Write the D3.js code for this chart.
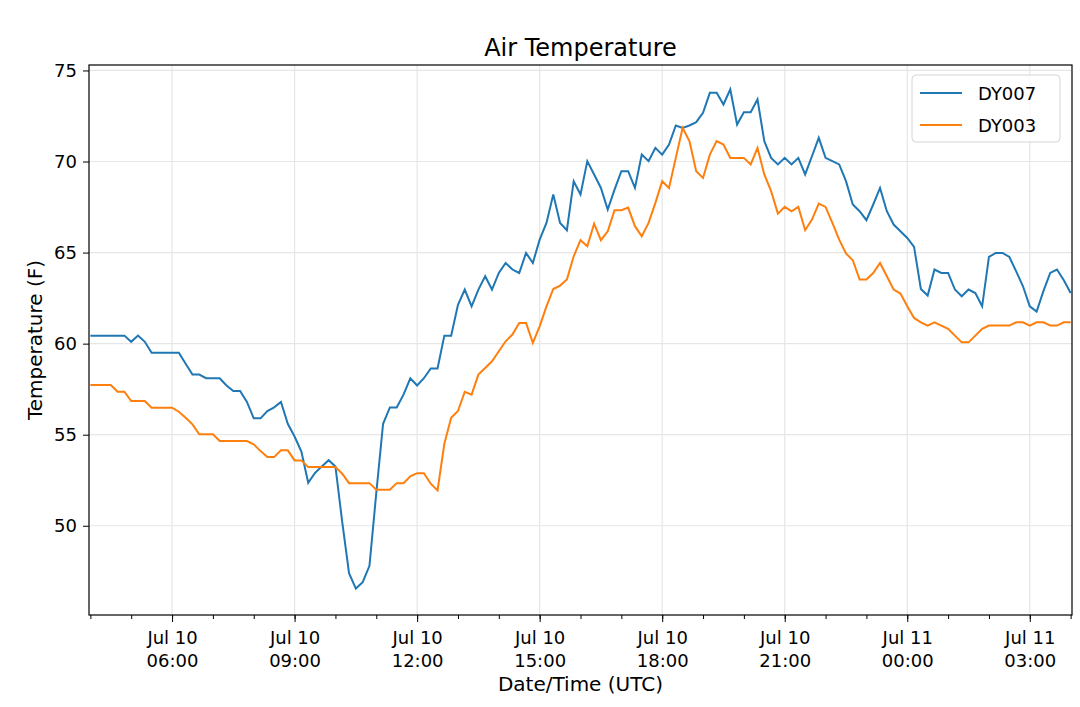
<!DOCTYPE html>
<html><head><meta charset="utf-8">
<script src="https://cdn.jsdelivr.net/npm/d3@7"></script>
<style>body{margin:0;background:#fff;font-family:"DejaVu Sans",sans-serif}</style>
</head><body><div id="chart"></div>
<script>
// readings every 10 minutes, Jul 10 04:00 UTC to Jul 11 04:00 UTC
const startTime = "2019-07-10T04:00:00Z";
const stepMinutes = 10;
const seriesNames = ["DY007", "DY003"];
const dy007 = [
  60.44,60.44,60.44,60.44,60.44,60.44,
  60.1,60.44,60.1,59.5,59.5,59.5,
  59.5,59.5,58.9,58.3,58.3,58.1,
  58.1,58.1,57.7,57.4,57.4,56.8,
  55.9,55.9,56.3,56.5,56.8,55.6,
  54.9,54.07,52.36,52.9,53.26,53.6,
  53.26,50.2,47.4,46.55,46.9,47.8,
  51.8,55.6,56.5,56.5,57.2,58.1,
  57.7,58.1,58.64,58.64,60.44,60.44,
  62.13,62.97,62.05,62.97,63.7,62.97,
  63.88,64.43,64.07,63.88,64.98,64.43,
  65.71,66.63,68.19,66.63,66.23,68.92,
  68.19,70.02,69.29,68.55,67.36,68.46,
  69.47,69.47,68.55,70.38,70.02,70.75,
  70.38,70.93,71.98,71.85,71.98,72.16,
  72.67,73.77,73.77,73.13,73.96,72.03,
  72.71,72.71,73.41,71.12,70.2,69.84,
  70.2,69.84,70.2,69.29,70.29,71.3,
  70.2,70.02,69.84,68.92,67.64,67.27,
  66.78,67.64,68.55,67.27,66.54,66.17,
  65.8,65.31,63.0,62.64,64.07,63.88,
  63.88,62.97,62.6,62.97,62.78,62.05,
  64.76,64.98,64.98,64.76,63.97,63.15,
  62.05,61.76,62.88,63.88,64.07,63.48,
  62.78
];
const dy003 = [
  57.73,57.73,57.73,57.73,57.36,57.36,
  56.85,56.85,56.85,56.48,56.48,56.48,
  56.48,56.26,55.93,55.57,55.02,55.02,
  55.02,54.65,54.65,54.65,54.65,54.65,
  54.47,54.1,53.77,53.77,54.14,54.14,
  53.59,53.59,53.22,53.22,53.22,53.22,
  53.22,52.86,52.34,52.34,52.34,52.34,
  51.98,51.98,51.98,52.34,52.34,52.71,
  52.89,52.89,52.31,51.94,54.5,55.93,
  56.3,57.36,57.2,58.3,58.66,59.03,
  59.58,60.13,60.5,61.14,61.14,60.04,
  60.95,62.05,63.0,63.19,63.52,64.8,
  65.68,65.35,66.59,65.68,66.17,67.33,
  67.33,67.47,66.45,65.9,66.63,67.73,
  68.92,68.55,70.2,71.85,71.12,69.47,
  69.1,70.38,71.12,70.93,70.2,70.2,
  70.2,69.84,70.75,69.29,68.37,67.14,
  67.51,67.27,67.51,66.23,66.81,67.69,
  67.51,66.63,65.71,64.95,64.58,63.52,
  63.52,63.88,64.43,63.7,62.97,62.75,
  62.05,61.41,61.17,60.99,61.17,60.99,
  60.81,60.44,60.07,60.07,60.44,60.81,
  60.99,60.99,60.99,60.99,61.17,61.17,
  60.99,61.17,61.17,60.99,60.99,61.17,
  61.17
];
const yTicks = [50, 55, 60, 65, 70, 75];
const colours = ["#1f77b4", "#ff7f0e"];

const width = 1080, height = 707;
const margin = {top: 65, right: 8, bottom: 92, left: 89};

const t0 = new Date(startTime);
const times = dy007.map((d, i) => d3.utcMinute.offset(t0, i * stepMinutes));
const series = [dy007, dy003].map((vals, k) => ({
  name: seriesNames[k],
  colour: colours[k],
  points: vals.map((v, i) => ({t: times[i], v: v}))
}));

const svg = d3.select("#chart").append("svg")
  .attr("width", width).attr("height", height);

const x = d3.scaleUtc()
  .domain([d3.utcMinute.offset(t0, -2), d3.utcMinute.offset(times[times.length - 1], 2)])
  .range([margin.left, width - margin.right]);
const y = d3.scaleLinear()
  .domain([45.1, 75.3])
  .range([height - margin.bottom, margin.top]);

const majorTicks = d3.utcHour.every(3).range(x.domain()[0], x.domain()[1]);
const minorTicks = d3.utcHour.every(1).range(x.domain()[0], x.domain()[1]);

// grid
svg.append("g").selectAll("line").data(majorTicks).join("line")
  .attr("x1", d => x(d)).attr("x2", d => x(d))
  .attr("y1", margin.top).attr("y2", height - margin.bottom)
  .attr("stroke", "#e6e6e6").attr("stroke-width", 1.2);
svg.append("g").selectAll("line").data(yTicks).join("line")
  .attr("x1", margin.left).attr("x2", width - margin.right)
  .attr("y1", d => y(d)).attr("y2", d => y(d))
  .attr("stroke", "#e6e6e6").attr("stroke-width", 1.2);

// lines
const line = d3.line().x(d => x(d.t)).y(d => y(d.v));
svg.append("g").selectAll("path").data(series).join("path")
  .attr("d", d => line(d.points))
  .attr("fill", "none")
  .attr("stroke", d => d.colour)
  .attr("stroke-width", 2);

// axes
const xAxis = svg.append("g")
  .attr("transform", `translate(0,${height - margin.bottom})`)
  .call(d3.axisBottom(x).tickValues(minorTicks).tickSize(4).tickFormat(""));
xAxis.select(".domain").remove();
const xMajor = svg.append("g")
  .attr("transform", `translate(0,${height - margin.bottom})`)
  .call(d3.axisBottom(x).tickValues(majorTicks).tickSize(7).tickFormat(""));
xMajor.select(".domain").remove();
xMajor.selectAll(".tick").each(function(d) {
  const t = d3.select(this).append("text")
    .attr("fill", "#000").attr("font-size", 18).attr("text-anchor", "middle")
    .attr("font-family", "DejaVu Sans");
  t.append("tspan").attr("x", 0).attr("y", 29).text(d3.utcFormat("%b %d")(d));
  t.append("tspan").attr("x", 0).attr("y", 52).text(d3.utcFormat("%H:%M")(d));
});

const yAxis = svg.append("g")
  .attr("transform", `translate(${margin.left},0)`)
  .call(d3.axisLeft(y).tickValues(yTicks).tickSize(6).tickPadding(6));
yAxis.select(".domain").remove();
yAxis.selectAll("text").attr("font-size", 18).attr("font-family", "DejaVu Sans").attr("fill", "#000");

// frame
svg.append("rect")
  .attr("x", margin.left).attr("y", margin.top)
  .attr("width", width - margin.left - margin.right)
  .attr("height", height - margin.top - margin.bottom)
  .attr("fill", "none").attr("stroke", "#000").attr("stroke-width", 1.2);

// labels
svg.append("text").attr("x", (margin.left + width - margin.right) / 2).attr("y", 56)
  .attr("text-anchor", "middle").attr("font-size", 24).text("Air Temperature");
svg.append("text").attr("x", (margin.left + width - margin.right) / 2).attr("y", 691)
  .attr("text-anchor", "middle").attr("font-size", 20).text("Date/Time (UTC)");
svg.append("text")
  .attr("transform", `translate(42,${(margin.top + height - margin.bottom) / 2}) rotate(-90)`)
  .attr("text-anchor", "middle").attr("font-size", 20).text("Temperature (F)");

// legend
const lg = svg.append("g").attr("transform", "translate(912,75)");
lg.append("rect").attr("width", 148).attr("height", 67).attr("rx", 4)
  .attr("fill", "#fff").attr("fill-opacity", 0.8).attr("stroke", "#d5d5d5");
series.forEach((s, i) => {
  const yy = 18 + i * 32;
  lg.append("line").attr("x1", 8).attr("x2", 50).attr("y1", yy).attr("y2", yy)
    .attr("stroke", s.colour).attr("stroke-width", 2);
  lg.append("text").attr("x", 66).attr("y", yy + 7).attr("font-size", 18).text(s.name);
});
</script>
</body></html>
